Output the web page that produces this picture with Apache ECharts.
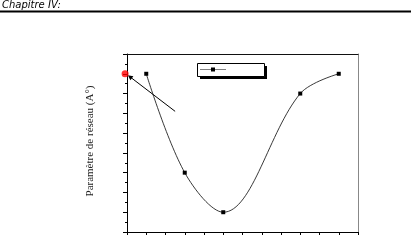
<!DOCTYPE html>
<html>
<head>
<meta charset="utf-8">
<script src="https://cdn.jsdelivr.net/npm/echarts@6/dist/echarts.min.js"></script>
<style>html,body{margin:0;padding:0;background:#fff;}#c{width:411px;height:244px;}</style>
</head>
<body>
<div id="c"></div>
<script>
// Data (axis units: no tick labels shown in the reference)
const xValues = [1, 3, 5, 9, 11];
const yValues = [8, 3, 1, 7, 8];
const redPoint = [[-0.1, 8.0]];
const arrowStart = [2.5, 6.1];
const arrowEnd = [0.15, 7.85];
const seriesName = 'B';
const yLabel = 'Paramètre de réseau (A°)';
const headerText = 'Chapitre IV:';

const chart = echarts.init(document.getElementById('c'), null, {renderer: 'canvas'});
const mainData = xValues.map((x, i) => [x, yValues[i]]);

chart.setOption({
  animation: false,
  backgroundColor: '#fff',
  grid: {left: 127, right: 53, top: 54, bottom: 12, containLabel: false},
  xAxis: [{
    type: 'value', min: 0, max: 12, interval: 1,
    axisLine: {show: true, onZero: false, lineStyle: {color: '#000', width: 1}},
    axisTick: {show: true, inside: false, length: 3, lineStyle: {color: '#000'}},
    axisLabel: {show: false}, splitLine: {show: false}
  }, {
    type: 'value', min: 0, max: 12, position: 'top',
    axisLine: {show: true, onZero: false, lineStyle: {color: '#111', width: 1}},
    axisTick: {show: false}, axisLabel: {show: false}, splitLine: {show: false}
  }],
  yAxis: [{
    type: 'value', min: 0, max: 9, interval: 1,
    axisLine: {show: true, onZero: false, lineStyle: {color: '#000', width: 1}},
    axisTick: {show: true, inside: false, length: 4, lineStyle: {color: '#000'}},
    minorTick: {show: true, splitNumber: 2, length: 2, lineStyle: {color: '#000'}},
    axisLabel: {show: false}, splitLine: {show: false}
  }, {
    type: 'value', min: 0, max: 9, position: 'right',
    axisLine: {show: true, onZero: false, lineStyle: {color: '#888', width: 1}},
    axisTick: {show: false}, axisLabel: {show: false}, splitLine: {show: false}
  }],
  legend: {
    show: true, left: 200, top: 67, padding: 0,
    itemWidth: 25, itemHeight: 5, itemGap: 0,
    formatter: function () { return ''; },
    data: [seriesName],
    lineStyle: {type: 'dotted', width: 1, color: '#000'}
  },
  graphic: [
    {type: 'text', left: 2, top: 0, style: {text: headerText, font: 'italic 10px "DejaVu Sans"', fill: '#000'}},
    {type: 'rect', shape: {x: 0, y: 10.5, width: 411, height: 2}, style: {fill: '#000'}},
    {type: 'rect', z: 1, shape: {x: 200, y: 66, width: 67, height: 13}, style: {fill: '#000'}},
    {type: 'rect', z: 2, shape: {x: 197.5, y: 63.5, width: 67, height: 13}, style: {fill: '#fff', stroke: '#000', lineWidth: 1}},
    {type: 'text', x: 90, y: 141, rotation: Math.PI / 2,
      style: {text: yLabel, font: '11px "Liberation Serif"', fill: '#222', align: 'center', verticalAlign: 'middle'}}
  ],
  series: [
    {
      name: seriesName, type: 'line', data: mainData, smooth: 0.35,
      symbol: 'rect', symbolSize: 4, showSymbol: true,
      lineStyle: {color: '#222', width: 0.9},
      itemStyle: {color: '#000'}, z: 3
    },
    {
      type: 'scatter', data: redPoint, symbol: 'circle', symbolSize: 7,
      itemStyle: {color: '#ff0000'}, clip: false, z: 5,
      markLine: {
        silent: true, animation: false,
        symbol: ['none', 'triangle'], symbolSize: 5,
        itemStyle: {color: '#000', borderWidth: 0},
        lineStyle: {color: '#000', width: 1, type: 'solid'},
        emphasis: {disabled: true},
        label: {show: false},
        data: [[{coord: arrowStart}, {coord: arrowEnd}]]
      }
    }
  ]
});
</script>
</body>
</html>
